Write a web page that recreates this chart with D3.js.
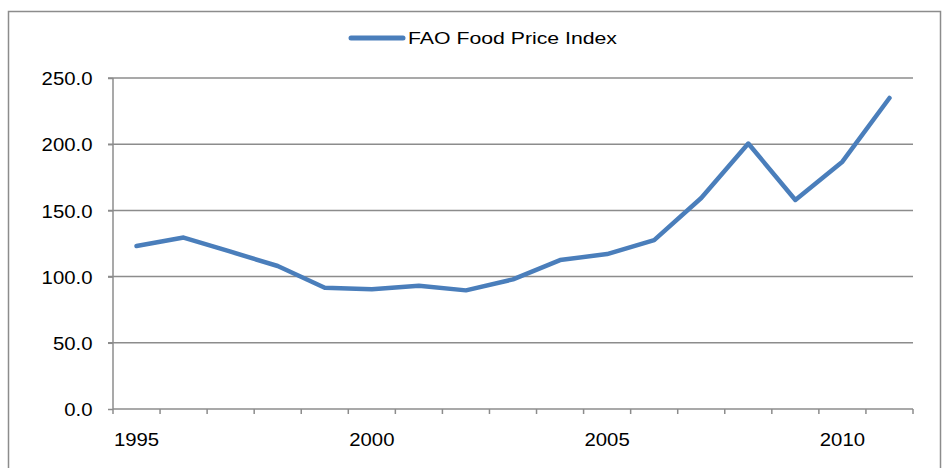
<!DOCTYPE html>
<html>
<head>
<meta charset="utf-8">
<script src="https://cdn.jsdelivr.net/npm/d3@7"></script>
<style>
  body { margin: 0; background: white; }
  text { font-family: "Liberation Sans", Arial, sans-serif; fill: #000; }
</style>
</head>
<body>
<svg id="chart" width="952" height="468"></svg>
<script>
// data
const years = d3.range(1995, 2012);
const priceIndex = [123.1, 129.5, 118.8, 108.0, 91.6, 90.4, 93.1, 89.6, 97.9, 112.5,
                    117.0, 127.6, 159.4, 200.5, 157.9, 186.8, 234.9];
const yTicks = [0, 50, 100, 150, 200, 250];
const xLabels = [1995, 2000, 2005, 2010];
const seriesName = "FAO Food Price Index";

const margins = {top: 78, right: 40, bottom: 59, left: 113};
const svg = d3.select("#chart");
const plotRight = 913;
const stretch = 1.1; // labels in the picture are a bit wider than the font

// outer frame
svg.append("rect")
    .attr("x", 8.5).attr("y", 11.5)
    .attr("width", 932).attr("height", 470)
    .attr("fill", "white")
    .attr("stroke", "#8c8c8c")
    .attr("stroke-width", 1.5);

// scales
const x = d3.scaleBand()
    .domain(years)
    .range([margins.left, plotRight]);
const y = d3.scaleLinear()
    .domain([0, 250])
    .range([409, margins.top]);

// gridlines
svg.append("g")
    .selectAll("line")
    .data(yTicks.slice(1))
    .join("line")
    .attr("x1", margins.left - 5)
    .attr("x2", plotRight)
    .attr("y1", d => y(d))
    .attr("y2", d => y(d))
    .attr("stroke", "#8c8c8c")
    .attr("stroke-width", 1.5);

function widen(sel) {
    sel.each(function() {
        let w = this.getComputedTextLength();
        d3.select(this).attr("textLength", w * stretch).attr("lengthAdjust", "spacingAndGlyphs");
    });
}

// y axis
const yAxis = svg.append("g")
    .attr("transform", `translate(${margins.left},0)`)
    .call(d3.axisLeft(y).tickValues(yTicks).tickFormat(d3.format(".1f")).tickSize(5).tickPadding(15.5));
yAxis.attr("font-size", null).attr("font-family", null);
yAxis.select(".domain").attr("stroke", "#8c8c8c").attr("stroke-width", 1.5)
    .attr("d", `M0,${y(250)}V${y(0)}`);
yAxis.selectAll(".tick line").attr("stroke", "#8c8c8c").attr("stroke-width", 1.5);
yAxis.selectAll(".tick text")
    .style("font-size", "18.5px")
    .attr("fill", "#000")
    .attr("dy", "0.36em")
    .call(widen);

// x axis: tick marks at band edges
const xg = svg.append("g").attr("transform", `translate(0,${y(0)})`);
xg.append("line")
    .attr("x1", margins.left).attr("x2", plotRight)
    .attr("y1", 0).attr("y2", 0)
    .attr("stroke", "#8c8c8c").attr("stroke-width", 1.5);
const edges = years.map(d => x(d)).concat([plotRight]);
xg.selectAll(".xt")
    .data(edges)
    .join("line")
    .attr("class", "xt")
    .attr("x1", d => d).attr("x2", d => d)
    .attr("y1", 0).attr("y2", 5)
    .attr("stroke", "#8c8c8c").attr("stroke-width", 1.5);
xg.selectAll(".xl")
    .data(xLabels)
    .join("text")
    .attr("class", "xl")
    .attr("x", d => x(d) + x.bandwidth() / 2)
    .attr("y", 37)
    .attr("text-anchor", "middle")
    .style("font-size", "18.5px")
    .text(d => d)
    .call(widen);

// line
const line = d3.line()
    .x((d, i) => x(years[i]) + x.bandwidth() / 2)
    .y(d => y(d));
svg.append("path")
    .datum(priceIndex)
    .attr("d", line)
    .attr("fill", "none")
    .attr("stroke", "#4a7ebb")
    .attr("stroke-width", 4.5)
    .attr("stroke-linejoin", "round")
    .attr("stroke-linecap", "round");

// legend
const lg = svg.append("g").attr("transform", "translate(351,38)");
lg.append("line")
    .attr("x1", 0).attr("x2", 52)
    .attr("y1", 0).attr("y2", 0)
    .attr("stroke", "#4a7ebb")
    .attr("stroke-width", 5)
    .attr("stroke-linecap", "round");
lg.append("text")
    .attr("x", 57)
    .attr("y", 0)
    .attr("dy", "0.36em")
    .style("font-size", "17px")
    .attr("textLength", 209)
    .attr("lengthAdjust", "spacingAndGlyphs")
    .text(seriesName);
</script>
</body>
</html>
